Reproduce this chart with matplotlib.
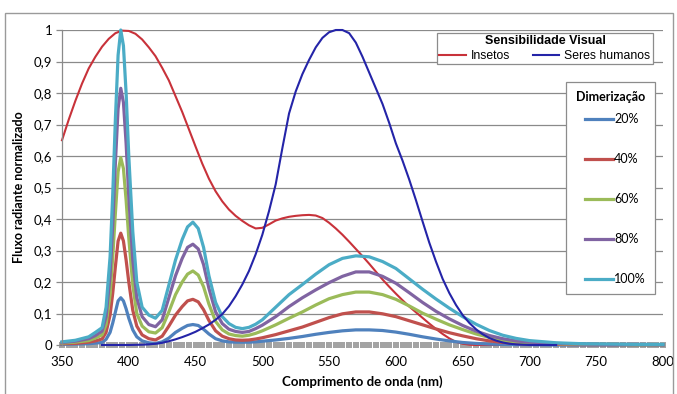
import matplotlib
matplotlib.use("Agg")
import matplotlib.pyplot as plt
from matplotlib.patches import Rectangle
from matplotlib.lines import Line2D
from matplotlib.legend_handler import HandlerLine2D

# ---------------- data ----------------
wl_led = [350, 360, 370, 375, 380, 383, 386, 388, 390, 392, 394, 396, 398, 400, 403, 406, 410,
          415, 420, 425, 430, 435, 440, 444, 448, 452, 456, 460, 465, 470, 475, 480, 485, 490, 495, 500,
          510, 520, 530, 540, 550, 560, 570, 580, 590, 600, 610, 620, 630, 640, 650, 660, 670, 680,
          690, 700, 720, 740, 760, 780, 800]

led_100 = [0.010, 0.015, 0.026, 0.040, 0.055, 0.120, 0.280, 0.480, 0.720, 0.920, 1.000, 0.950, 0.800, 0.600, 0.360, 0.200, 0.120,
           0.095, 0.085, 0.110, 0.190, 0.270, 0.335, 0.375, 0.390, 0.370, 0.310, 0.220, 0.135, 0.090, 0.068, 0.056, 0.052, 0.056, 0.066, 0.080,
           0.120, 0.160, 0.192, 0.225, 0.255, 0.275, 0.283, 0.280, 0.265, 0.243, 0.210, 0.177, 0.146, 0.117, 0.090, 0.066, 0.046, 0.031,
           0.021, 0.014, 0.007, 0.004, 0.003, 0.002, 0.002]
led_80 = [0.008, 0.012, 0.020, 0.030, 0.044, 0.090, 0.220, 0.380, 0.580, 0.750, 0.815, 0.770, 0.640, 0.470, 0.270, 0.150, 0.090,
          0.065, 0.058, 0.080, 0.150, 0.220, 0.275, 0.310, 0.320, 0.305, 0.255, 0.180, 0.105, 0.068, 0.050, 0.043, 0.040, 0.043, 0.052, 0.063,
          0.090, 0.122, 0.150, 0.175, 0.198, 0.218, 0.232, 0.232, 0.218, 0.196, 0.166, 0.135, 0.107, 0.083, 0.062, 0.044, 0.030, 0.020,
          0.013, 0.009, 0.005, 0.003, 0.002, 0.002, 0.001]
led_60 = [0.006, 0.009, 0.014, 0.022, 0.032, 0.065, 0.160, 0.280, 0.420, 0.550, 0.595, 0.560, 0.460, 0.340, 0.190, 0.100, 0.060,
          0.042, 0.038, 0.055, 0.105, 0.160, 0.200, 0.225, 0.235, 0.222, 0.185, 0.130, 0.075, 0.048, 0.035, 0.030, 0.028, 0.031, 0.037, 0.045,
          0.064, 0.085, 0.105, 0.127, 0.147, 0.160, 0.168, 0.168, 0.160, 0.145, 0.124, 0.101, 0.082, 0.064, 0.049, 0.035, 0.024, 0.015,
          0.010, 0.007, 0.004, 0.002, 0.002, 0.001, 0.001]
led_40 = [0.004, 0.005, 0.009, 0.013, 0.019, 0.040, 0.095, 0.165, 0.250, 0.330, 0.355, 0.330, 0.270, 0.200, 0.110, 0.060, 0.032,
          0.020, 0.016, 0.028, 0.060, 0.095, 0.122, 0.140, 0.145, 0.137, 0.112, 0.078, 0.045, 0.028, 0.020, 0.016, 0.015, 0.016, 0.019, 0.023,
          0.033, 0.045, 0.057, 0.072, 0.087, 0.099, 0.105, 0.105, 0.099, 0.090, 0.077, 0.064, 0.051, 0.039, 0.029, 0.020, 0.013, 0.008,
          0.005, 0.003, 0.002, 0.001, 0.001, 0.001, 0.001]
led_20 = [0.002, 0.003, 0.004, 0.006, 0.008, 0.018, 0.040, 0.070, 0.105, 0.140, 0.150, 0.140, 0.115, 0.085, 0.048, 0.026, 0.013,
          0.007, 0.005, 0.010, 0.022, 0.040, 0.053, 0.062, 0.065, 0.062, 0.050, 0.035, 0.020, 0.013, 0.010, 0.009, 0.009, 0.009, 0.010, 0.012,
          0.016, 0.021, 0.027, 0.034, 0.040, 0.045, 0.048, 0.048, 0.046, 0.041, 0.034, 0.026, 0.019, 0.013, 0.008, 0.005, 0.003, 0.002,
          0.001, 0.001, 0.000, 0.000, 0.000, 0.000, 0.000]

wl_insects = [350, 355, 360, 365, 370, 375, 380, 385, 390, 395, 400, 405, 410, 415, 420, 425, 430, 435, 440, 445,
              450, 455, 460, 465, 470, 475, 480, 485, 490, 495, 500, 505, 510, 515, 520, 525, 530, 535, 540, 545,
              550, 555, 560, 565, 570, 575, 580, 585, 590, 595, 600, 605, 610, 615, 620, 625, 630, 635, 640, 645,
              650, 655, 660, 670, 680]
insects = [0.650, 0.715, 0.775, 0.830, 0.878, 0.915, 0.947, 0.972, 0.990, 0.998, 0.997, 0.988, 0.970, 0.945, 0.917, 0.880, 0.840, 0.790, 0.740, 0.685,
           0.630, 0.576, 0.528, 0.488, 0.456, 0.430, 0.410, 0.394, 0.380, 0.370, 0.372, 0.383, 0.395, 0.402, 0.407, 0.410, 0.412, 0.413, 0.411, 0.403,
           0.388, 0.370, 0.350, 0.328, 0.305, 0.282, 0.258, 0.233, 0.208, 0.185, 0.163, 0.142, 0.122, 0.104, 0.086, 0.068, 0.051, 0.035, 0.021, 0.010,
           0.004, 0.001, 0.000, 0.000, 0.000]

wl_humans = [380, 400, 405, 410, 415, 420, 425, 430, 435, 440, 445, 450, 455, 460, 465, 470, 475, 480, 485, 490,
             495, 500, 505, 510, 515, 520, 525, 530, 535, 540, 545, 550, 555, 560, 565, 570, 575, 580, 585, 590,
             595, 600, 605, 610, 615, 620, 625, 630, 635, 640, 645, 650, 655, 660, 665, 670, 675, 680, 685, 690,
             695, 700, 720]
humans = [0.000, 0.000, 0.0005, 0.001, 0.002, 0.004, 0.007, 0.012, 0.018, 0.025, 0.033, 0.042, 0.053, 0.065, 0.080, 0.098, 0.123, 0.155, 0.192, 0.235,
          0.288, 0.350, 0.425, 0.510, 0.625, 0.735, 0.805, 0.860, 0.905, 0.945, 0.975, 0.993, 1.000, 1.000, 0.990, 0.960, 0.915, 0.865, 0.815, 0.765,
          0.705, 0.640, 0.585, 0.525, 0.460, 0.392, 0.325, 0.265, 0.210, 0.165, 0.127, 0.095, 0.070, 0.050, 0.034, 0.022, 0.014, 0.008, 0.004, 0.002,
          0.001, 0.000, 0.000]

wl_axis = list(range(350, 801, 5))
axis_zero = [0.0] * len(wl_axis)

led_labels = ["20%", "40%", "60%", "80%", "100%"]
led_colors = ["#4F81BD", "#C0504D", "#9BBB59", "#8064A2", "#4BACC6"]
x_ticks = [350, 400, 450, 500, 550, 600, 650, 700, 750, 800]
y_ticks = [0, 0.1, 0.2, 0.3, 0.4, 0.5, 0.6, 0.7, 0.8, 0.9, 1.0]
y_ticklabels = ["0", "0,1", "0,2", "0,3", "0,4", "0,5", "0,6", "0,7", "0,8", "0,9", "1"]

# ---------------- figure ----------------
W, H = 677, 394
fig = plt.figure(figsize=(W / 100, H / 100), dpi=100)
fig.patch.set_facecolor("white")

# outer chart border
fig.patches.append(Rectangle((5 / W, -0.02), (673 - 5) / W, 1.02 - 13 / H, transform=fig.transFigure,
                             fill=False, edgecolor="#9a9a9a", linewidth=1.0))

ax = fig.add_axes([62 / W, 1 - 345 / H, 601 / W, 315 / H])
ax.set_xlim(350, 800)
ax.set_ylim(0, 1)

grid_c = "#8a8a8a"
for v in y_ticks[1:]:
    ax.axhline(v, color=grid_c, linewidth=0.9, zorder=0.5)

for s in ["top", "right", "bottom"]:
    ax.spines[s].set_visible(False)
ax.spines["left"].set_color(grid_c)
ax.spines["left"].set_linewidth(0.9)

tick_font = "Lato"
ax.set_xticks(x_ticks)
ax.set_xticklabels([str(t) for t in x_ticks], fontsize=9.5, family=tick_font)
ax.set_yticks(y_ticks)
ax.set_yticklabels(y_ticklabels, fontsize=9.5, family=tick_font)
ax.tick_params(axis="x", length=0, pad=8)
ax.tick_params(axis="y", length=4, width=0.9, color=grid_c, pad=3)

# zero-line gray square markers
ax.plot(wl_axis, axis_zero, linestyle="none", marker="s", markersize=3.7, markeredgewidth=0,
        color="#a3a3a3", clip_on=False, zorder=1)

series = [led_20, led_40, led_60, led_80, led_100]
led_handles = []
for i, (vals, lab, col) in enumerate(zip(series, led_labels, led_colors)):
    h, = ax.plot(wl_led, vals, color=col, linewidth=2.3, label=lab, clip_on=False,
                 solid_joinstyle="round", zorder=2 + i * 0.1)
    led_handles.append(h)

h_ins, = ax.plot(wl_insects, insects, color="#C8323A", linewidth=1.5, label="Insetos", clip_on=False, zorder=1.9)
h_hum, = ax.plot(wl_humans, humans, color="#2424A8", linewidth=1.5, label="Seres humanos", clip_on=False, zorder=3.1)

ax.set_xlabel("Comprimento de onda (nm)", fontsize=9.5, family=tick_font, fontweight="bold", labelpad=5)
ax.set_ylabel("Fluxo radiante normalizado", fontsize=9, family=tick_font, fontweight="bold", labelpad=6)

leg_font = "Liberation Sans"
leg1 = ax.legend([h_ins, h_hum], ["Insetos", "Seres humanos"], ncol=2,
                 loc="upper left", bbox_to_anchor=(437 / W, 1 - 33 / H), bbox_transform=fig.transFigure,
                 borderaxespad=0, fancybox=False, framealpha=1, edgecolor="#8c8c8c",
                 title="Sensibilidade Visual",
                 prop={"family": leg_font, "size": 8.8},
                 title_fontproperties={"family": leg_font, "size": 9, "weight": "bold"},
                 handlelength=2.2, handletextpad=0.4, columnspacing=1.8, borderpad=0.2,
                 labelspacing=0.2)
leg1.get_frame().set_linewidth(0.9)
leg1.set_zorder(10)
ax.add_artist(leg1)

leg2 = ax.legend(led_handles, led_labels, loc="upper left",
                 bbox_to_anchor=(566 / W, 1 - 82 / H), bbox_transform=fig.transFigure,
                 borderaxespad=0, fancybox=False, framealpha=1, edgecolor="#8c8c8c",
                 title="Dimerização",
                 prop={"family": "Lato", "size": 9},
                 title_fontproperties={"family": "Lato", "size": 9, "weight": "bold"},
                 handlelength=3.06, handletextpad=0.1, borderpad=0.7, labelspacing=2.24,
                 handler_map={Line2D: HandlerLine2D(xpad=0.82)})
leg2._legend_box.sep = 7.4
leg2.get_frame().set_linewidth(0.9)
leg2.set_zorder(10)

fig.savefig("out.png", dpi=100, facecolor="white")
